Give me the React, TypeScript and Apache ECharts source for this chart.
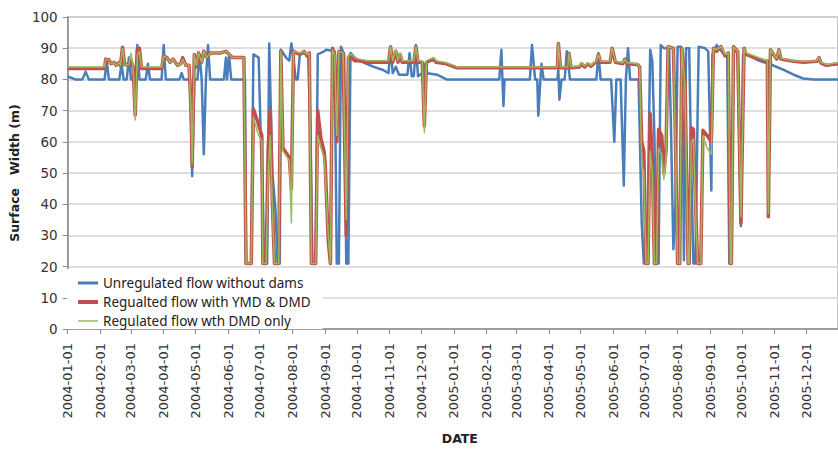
import React, { useEffect, useRef } from "react";
import * as echarts from "echarts";

const seriesNames = [
  "Unregulated flow without dams",
  "Regualted flow with YMD & DMD",
  "Regulated flow wth DMD only",
];

const yTicks = { min: 0, max: 100, interval: 10 };
const xRange = { min: "2004-01-01", max: "2005-12-31" };

const unregulated: [string, number][] = [
  ["2004-01-01", 81], ["2004-01-08", 80], ["2004-01-15", 80], ["2004-01-18", 82.5], ["2004-01-21", 80],
  ["2004-02-05", 80], ["2004-02-07", 86], ["2004-02-09", 80], ["2004-02-19", 80], ["2004-02-21", 85], ["2004-02-23", 80],
  ["2004-02-26", 80], ["2004-02-28", 87], ["2004-03-01", 80], ["2004-03-05", 80], ["2004-03-07", 91], ["2004-03-09", 80],
  ["2004-03-15", 80], ["2004-03-17", 85], ["2004-03-19", 80], ["2004-03-30", 80], ["2004-04-01", 91], ["2004-04-03", 80],
  ["2004-04-16", 80], ["2004-04-18", 82], ["2004-04-20", 80], ["2004-04-26", 80], ["2004-04-28", 49], ["2004-04-30", 80],
  ["2004-05-03", 80], ["2004-05-05", 88], ["2004-05-07", 80], ["2004-05-09", 56], ["2004-05-11", 80], ["2004-05-13", 91], ["2004-05-15", 80],
  ["2004-05-28", 80], ["2004-05-30", 87], ["2004-05-31", 80], ["2004-06-02", 87.5], ["2004-06-04", 80],
  ["2004-06-17", 80], ["2004-06-18", 21], ["2004-06-23", 21], ["2004-06-25", 88], ["2004-06-30", 87],
  ["2004-07-02", 61], ["2004-07-04", 40], ["2004-07-05", 21], ["2004-07-08", 21], ["2004-07-10", 91.5], ["2004-07-13", 50], ["2004-07-16", 38],
  ["2004-07-18", 21], ["2004-07-20", 21], ["2004-07-21", 89.5], ["2004-07-26", 87], ["2004-07-29", 86], ["2004-07-31", 91.5],
  ["2004-08-02", 87], ["2004-08-04", 80], ["2004-08-06", 80], ["2004-08-08", 88], ["2004-08-13", 88.5], ["2004-08-16", 87],
  ["2004-08-18", 64], ["2004-08-20", 21], ["2004-08-23", 21], ["2004-08-25", 88], ["2004-08-31", 89], ["2004-09-02", 89.5],
  ["2004-09-10", 89], ["2004-09-12", 21], ["2004-09-14", 21], ["2004-09-16", 90.5], ["2004-09-19", 88], ["2004-09-21", 21], ["2004-09-23", 21],
  ["2004-09-25", 88.5], ["2004-09-29", 87], ["2004-10-07", 85.5], ["2004-10-17", 84], ["2004-10-26", 83], ["2004-10-31", 82],
  ["2004-11-02", 90], ["2004-11-04", 82], ["2004-11-07", 84], ["2004-11-10", 81.5], ["2004-11-18", 81.5], ["2004-11-20", 88.4], ["2004-11-22", 81],
  ["2004-11-24", 81], ["2004-11-26", 91], ["2004-11-28", 81], ["2004-12-02", 82], ["2004-12-05", 85], ["2004-12-07", 82],
  ["2004-12-16", 81.5], ["2004-12-25", 80],
  ["2005-02-13", 80], ["2005-02-15", 89.5], ["2005-02-16", 80], ["2005-02-17", 71.5], ["2005-02-18", 80],
  ["2005-03-14", 80], ["2005-03-16", 91], ["2005-03-19", 80], ["2005-03-21", 80], ["2005-03-22", 68.4], ["2005-03-24", 80], ["2005-03-25", 85], ["2005-03-27", 80],
  ["2005-04-09", 80], ["2005-04-10", 83], ["2005-04-11", 73.5], ["2005-04-13", 80], ["2005-04-16", 80], ["2005-04-18", 89], ["2005-04-21", 80],
  ["2005-05-16", 80], ["2005-05-18", 88.4], ["2005-05-20", 80], ["2005-05-30", 80], ["2005-06-02", 60], ["2005-06-04", 80],
  ["2005-06-08", 80], ["2005-06-11", 46], ["2005-06-13", 80], ["2005-06-15", 90], ["2005-06-17", 80],
  ["2005-06-25", 80], ["2005-06-28", 34], ["2005-06-30", 21], ["2005-07-03", 21], ["2005-07-06", 89.5], ["2005-07-08", 86], ["2005-07-10", 62],
  ["2005-07-12", 21], ["2005-07-14", 21], ["2005-07-16", 91], ["2005-07-19", 90], ["2005-07-24", 90], ["2005-07-26", 60], ["2005-07-28", 25.6], ["2005-07-30", 40],
  ["2005-08-01", 90.5], ["2005-08-04", 90.5], ["2005-08-06", 65], ["2005-08-07", 22], ["2005-08-09", 90], ["2005-08-12", 90], ["2005-08-14", 50],
  ["2005-08-16", 21], ["2005-08-18", 21], ["2005-08-20", 70], ["2005-08-21", 90.5], ["2005-08-27", 90], ["2005-08-30", 89], ["2005-09-02", 44.4],
  ["2005-09-03", 88], ["2005-09-07", 91], ["2005-09-14", 88], ["2005-09-17", 88], ["2005-09-19", 21], ["2005-09-21", 21], ["2005-09-23", 90.5],
  ["2005-09-27", 88], ["2005-09-29", 50], ["2005-09-30", 33], ["2005-10-02", 88], ["2005-10-05", 88], ["2005-10-17", 86], ["2005-10-29", 84.7],
  ["2005-11-10", 83], ["2005-11-19", 81.5], ["2005-11-28", 80.3], ["2005-12-08", 80], ["2005-12-31", 80],
];

const regulatedYmdDmd: [string, number][] = [
  ["2004-01-01", 83.5], ["2004-02-05", 83.5], ["2004-02-06", 86.5], ["2004-02-09", 86.3], ["2004-02-11", 85], ["2004-02-14", 85.5], ["2004-02-16", 84.5],
  ["2004-02-19", 85.5], ["2004-02-20", 84.5], ["2004-02-22", 90.3], ["2004-02-24", 84.7], ["2004-02-28", 84.7], ["2004-03-01", 86], ["2004-03-03", 84],
  ["2004-03-05", 68.5], ["2004-03-07", 89.5], ["2004-03-09", 90], ["2004-03-11", 83.5], ["2004-03-30", 83.5], ["2004-04-01", 87.5], ["2004-04-04", 87],
  ["2004-04-07", 85.5], ["2004-04-10", 86.5], ["2004-04-14", 84.5], ["2004-04-17", 85], ["2004-04-19", 87], ["2004-04-22", 84.5], ["2004-04-25", 84.5],
  ["2004-04-27", 70], ["2004-04-28", 52], ["2004-04-30", 88], ["2004-05-02", 84], ["2004-05-04", 88.5], ["2004-05-07", 85.5], ["2004-05-09", 89],
  ["2004-05-12", 87], ["2004-05-15", 88.5], ["2004-05-20", 88.5], ["2004-05-25", 88.5], ["2004-05-30", 89], ["2004-06-05", 87], ["2004-06-16", 87],
  ["2004-06-18", 21], ["2004-06-23", 21], ["2004-06-25", 70.5], ["2004-06-29", 66.5], ["2004-07-03", 62], ["2004-07-04", 21], ["2004-07-07", 21],
  ["2004-07-09", 58], ["2004-07-11", 70], ["2004-07-13", 40], ["2004-07-15", 21], ["2004-07-19", 21], ["2004-07-21", 89], ["2004-07-23", 58],
  ["2004-07-26", 56.5], ["2004-07-29", 55], ["2004-07-31", 45], ["2004-08-02", 89], ["2004-08-08", 88], ["2004-08-12", 89], ["2004-08-15", 87.5],
  ["2004-08-17", 88.5], ["2004-08-19", 21], ["2004-08-23", 21], ["2004-08-25", 70], ["2004-08-28", 61], ["2004-08-31", 57], ["2004-09-01", 53],
  ["2004-09-04", 28], ["2004-09-06", 21], ["2004-09-08", 90], ["2004-09-10", 88], ["2004-09-12", 60], ["2004-09-14", 89], ["2004-09-18", 88.5],
  ["2004-09-21", 30], ["2004-09-23", 87], ["2004-09-26", 87], ["2004-09-29", 86], ["2004-10-03", 86], ["2004-10-12", 85.5], ["2004-10-21", 85.5],
  ["2004-10-31", 85.5], ["2004-11-02", 90.5], ["2004-11-04", 85.5], ["2004-11-07", 89], ["2004-11-09", 85.5], ["2004-11-11", 88], ["2004-11-13", 85.5],
  ["2004-11-24", 85.5], ["2004-11-26", 90.5], ["2004-11-28", 85.5], ["2004-12-02", 85.5], ["2004-12-04", 65], ["2004-12-06", 85.5], ["2004-12-13", 86.5],
  ["2004-12-15", 85.5], ["2004-12-25", 85], ["2005-01-04", 83.7], ["2005-04-09", 83.7], ["2005-04-10", 91.5], ["2005-04-12", 83.7], ["2005-04-19", 83.7],
  ["2005-04-20", 88.4], ["2005-04-22", 83.7], ["2005-04-30", 84], ["2005-05-02", 85], ["2005-05-05", 84], ["2005-05-08", 85], ["2005-05-11", 84.2],
  ["2005-05-14", 85.2], ["2005-05-16", 85.5], ["2005-05-18", 88], ["2005-05-20", 85.5], ["2005-05-29", 85.5], ["2005-05-31", 90], ["2005-06-03", 85.5],
  ["2005-06-10", 85], ["2005-06-12", 86.5], ["2005-06-14", 85], ["2005-06-24", 84.8], ["2005-06-26", 84], ["2005-06-28", 60], ["2005-06-30", 57],
  ["2005-07-02", 21], ["2005-07-04", 21], ["2005-07-06", 69], ["2005-07-08", 55], ["2005-07-10", 21], ["2005-07-12", 21], ["2005-07-14", 64],
  ["2005-07-17", 62], ["2005-07-19", 50], ["2005-07-21", 57], ["2005-07-23", 90.5], ["2005-07-28", 90], ["2005-07-30", 60], ["2005-08-01", 21],
  ["2005-08-03", 21], ["2005-08-05", 90], ["2005-08-08", 80], ["2005-08-09", 60], ["2005-08-11", 21], ["2005-08-12", 21], ["2005-08-14", 64.5],
  ["2005-08-16", 64], ["2005-08-18", 40], ["2005-08-20", 21], ["2005-08-23", 21], ["2005-08-25", 63.7], ["2005-08-29", 62], ["2005-09-02", 60],
  ["2005-09-04", 90], ["2005-09-07", 89], ["2005-09-11", 90.5], ["2005-09-15", 87.5], ["2005-09-18", 88.5], ["2005-09-20", 21], ["2005-09-21", 21],
  ["2005-09-23", 90.5], ["2005-09-27", 89], ["2005-09-30", 34], ["2005-10-03", 90], ["2005-10-05", 88], ["2005-10-13", 87], ["2005-10-22", 86],
  ["2005-10-25", 86], ["2005-10-26", 36], ["2005-10-28", 89.5], ["2005-11-03", 86.5], ["2005-11-05", 89.5], ["2005-11-07", 86.5], ["2005-11-19", 85.8],
  ["2005-11-28", 85.5], ["2005-12-11", 85.8], ["2005-12-13", 87], ["2005-12-15", 85.2], ["2005-12-20", 84.5], ["2005-12-31", 85],
];

const regulatedDmdOnly: [string, number][] = [
  ["2004-01-01", 84], ["2004-02-05", 84], ["2004-02-06", 86.5], ["2004-02-09", 86.3], ["2004-02-11", 85], ["2004-02-14", 85.5], ["2004-02-16", 84.5],
  ["2004-02-19", 85.5], ["2004-02-20", 84.5], ["2004-02-22", 90], ["2004-02-24", 84.7], ["2004-02-28", 84.7], ["2004-03-01", 88.4], ["2004-03-03", 84],
  ["2004-03-05", 67], ["2004-03-07", 88], ["2004-03-09", 89], ["2004-03-11", 84], ["2004-03-30", 84], ["2004-04-01", 87.5], ["2004-04-04", 87],
  ["2004-04-07", 85.5], ["2004-04-10", 86.5], ["2004-04-14", 84.5], ["2004-04-17", 85], ["2004-04-19", 86.5], ["2004-04-22", 84.5], ["2004-04-25", 84.5],
  ["2004-04-27", 70], ["2004-04-28", 53], ["2004-04-30", 88], ["2004-05-02", 84.5], ["2004-05-04", 88.5], ["2004-05-07", 85.5], ["2004-05-09", 89],
  ["2004-05-12", 87], ["2004-05-15", 88.5], ["2004-05-20", 88.5], ["2004-05-25", 88.5], ["2004-05-30", 89], ["2004-06-05", 87], ["2004-06-16", 87],
  ["2004-06-18", 21], ["2004-06-23", 21], ["2004-06-25", 68], ["2004-06-29", 63], ["2004-07-03", 60], ["2004-07-04", 21], ["2004-07-07", 21],
  ["2004-07-09", 50], ["2004-07-11", 62], ["2004-07-13", 38], ["2004-07-15", 21], ["2004-07-19", 21], ["2004-07-21", 89], ["2004-07-23", 57],
  ["2004-07-26", 55.5], ["2004-07-29", 54], ["2004-07-31", 34], ["2004-08-02", 89], ["2004-08-08", 88.5], ["2004-08-12", 89], ["2004-08-15", 88],
  ["2004-08-17", 88.5], ["2004-08-19", 21], ["2004-08-23", 21], ["2004-08-25", 62], ["2004-08-28", 58], ["2004-08-31", 55], ["2004-09-01", 50],
  ["2004-09-04", 30], ["2004-09-06", 21], ["2004-09-08", 89.5], ["2004-09-10", 88], ["2004-09-12", 62], ["2004-09-14", 89], ["2004-09-18", 88.5],
  ["2004-09-21", 35], ["2004-09-23", 88], ["2004-09-26", 88], ["2004-09-29", 87], ["2004-10-03", 86.5], ["2004-10-12", 86], ["2004-10-21", 86],
  ["2004-10-31", 86], ["2004-11-02", 90.5], ["2004-11-04", 86], ["2004-11-07", 89.5], ["2004-11-09", 86], ["2004-11-11", 88.5], ["2004-11-13", 86],
  ["2004-11-24", 86], ["2004-11-26", 90.5], ["2004-11-28", 86], ["2004-12-02", 86], ["2004-12-04", 63], ["2004-12-06", 86], ["2004-12-13", 87],
  ["2004-12-15", 86], ["2004-12-25", 85.3], ["2005-01-04", 84], ["2005-04-09", 84], ["2005-04-10", 91.5], ["2005-04-12", 84], ["2005-04-19", 84],
  ["2005-04-20", 88.4], ["2005-04-22", 84], ["2005-04-30", 84.3], ["2005-05-02", 85.3], ["2005-05-05", 84.3], ["2005-05-08", 85.3], ["2005-05-11", 84.5],
  ["2005-05-14", 85.5], ["2005-05-16", 85.8], ["2005-05-18", 88], ["2005-05-20", 85.8], ["2005-05-29", 85.8], ["2005-05-31", 90], ["2005-06-03", 85.8],
  ["2005-06-10", 85.3], ["2005-06-12", 86.5], ["2005-06-14", 85.3], ["2005-06-24", 85], ["2005-06-26", 84], ["2005-06-28", 53], ["2005-06-30", 50],
  ["2005-07-02", 21], ["2005-07-04", 21], ["2005-07-06", 57], ["2005-07-08", 50], ["2005-07-10", 21], ["2005-07-12", 21], ["2005-07-14", 58],
  ["2005-07-17", 56], ["2005-07-19", 48], ["2005-07-21", 55], ["2005-07-23", 90.5], ["2005-07-28", 90], ["2005-07-30", 58], ["2005-08-01", 21],
  ["2005-08-03", 21], ["2005-08-05", 90], ["2005-08-08", 78], ["2005-08-09", 58], ["2005-08-11", 21], ["2005-08-12", 21], ["2005-08-14", 60],
  ["2005-08-16", 61], ["2005-08-18", 38], ["2005-08-20", 21], ["2005-08-23", 21], ["2005-08-25", 62], ["2005-08-29", 58], ["2005-09-02", 56],
  ["2005-09-04", 90], ["2005-09-07", 89.5], ["2005-09-11", 90.5], ["2005-09-15", 88], ["2005-09-18", 88.5], ["2005-09-20", 21], ["2005-09-21", 21],
  ["2005-09-23", 90.5], ["2005-09-27", 89], ["2005-09-30", 36], ["2005-10-03", 90], ["2005-10-05", 88.5], ["2005-10-13", 87.5], ["2005-10-22", 86.3],
  ["2005-10-25", 86.3], ["2005-10-26", 37], ["2005-10-28", 89.5], ["2005-11-03", 86.8], ["2005-11-05", 89.5], ["2005-11-07", 86.8], ["2005-11-19", 86],
  ["2005-11-28", 85.8], ["2005-12-11", 86], ["2005-12-13", 87], ["2005-12-15", 85.5], ["2005-12-20", 84.8], ["2005-12-31", 85.3],
];

const seriesColors = ["#4A7EBB", "#C0504D", "#9BBB59"];
const seriesWidths = [2.5, 3.5, 1.5];
const legendIcons = [
  "path://M0,0H20V3H0Z",
  "path://M0,0H20V4H0Z",
  "path://M0,0H20V1.5H0Z",
];

const pad = (n: number) => (n < 10 ? "0" + n : "" + n);
const fmtDate = (v: number) => {
  const d = new Date(v);
  return d.getFullYear() + "-" + pad(d.getMonth() + 1) + "-" + pad(d.getDate());
};

export default function App() {
  const ref = useRef<HTMLDivElement>(null);
  useEffect(() => {
    if (!ref.current) return;
    const chart = echarts.init(ref.current, null, { renderer: "svg" });
    const DAY = 24 * 3600 * 1000;
    const axisGray = "#8c8c8c";
    chart.setOption({
      animation: false,
      backgroundColor: "#ffffff",
      grid: {
        left: 66,
        top: 17,
        bottom: 122,
        right: -6,
        show: true,
        borderColor: axisGray,
        borderWidth: 1,
        containLabel: false,
      },
      legend: {
        orient: "vertical",
        left: 67,
        top: 269,
        backgroundColor: "#ffffff",
        padding: [7, 12, 1, 11],
        itemGap: 5,
        itemWidth: 20,
        itemHeight: 14,
        symbolKeepAspect: true,
        textStyle: { fontFamily: "Noto Sans", fontSize: 13.5, color: "#222" },
        data: seriesNames.map((n, i) => ({ name: n, icon: legendIcons[i], itemStyle: { color: seriesColors[i] } })),
      },
      xAxis: {
        type: "time",
        min: xRange.min,
        max: xRange.max,
        minInterval: 28 * DAY,
        maxInterval: 31 * DAY,
        name: "DATE",
        nameLocation: "middle",
        nameGap: 103,
        nameTextStyle: { fontFamily: "DejaVu Sans", fontWeight: "bold", fontSize: 12.5, color: "#222", padding: [0, 0, 0, 14] },
        axisLine: { show: true, lineStyle: { color: axisGray, width: 1.5 } },
        axisTick: { show: true, length: 5, lineStyle: { color: axisGray } },
        splitLine: { show: false },
        minorTick: { show: false },
        axisLabel: {
          rotate: 90,
          margin: 14,
          fontFamily: "DejaVu Sans",
          fontSize: 13,
          color: "#333",
          showMaxLabel: false,
          formatter: (v: number) => fmtDate(v),
        },
      },
      yAxis: {
        type: "value",
        min: yTicks.min,
        max: yTicks.max,
        interval: yTicks.interval,
        name: "Surface   Width (m)",
        nameLocation: "middle",
        nameGap: 41,
        nameTextStyle: { fontFamily: "DejaVu Sans", fontWeight: "bold", fontSize: 12.5, color: "#222" },
        axisLine: { show: true, lineStyle: { color: axisGray, width: 1.5 } },
        axisTick: { show: true, length: 5, lineStyle: { color: axisGray } },
        axisLabel: { margin: 10, fontFamily: "DejaVu Sans", fontSize: 13.5, color: "#333" },
        splitLine: { show: true, lineStyle: { color: "#d4d4d4", width: 1.5 } },
      },
      series: [unregulated, regulatedYmdDmd, regulatedDmdOnly].map((data, i) => ({
        name: seriesNames[i],
        type: "line",
        data,
        symbol: "none",
        showSymbol: false,
        color: seriesColors[i],
        lineStyle: { color: seriesColors[i], width: seriesWidths[i], join: "round" },
        z: 2 + i,
      })),
    });
    return () => chart.dispose();
  }, []);
  return (
    <div
      ref={ref}
      style={{ position: "fixed", left: 0, top: 0, width: 838, height: 451, background: "#fff" }}
    />
  );
}
